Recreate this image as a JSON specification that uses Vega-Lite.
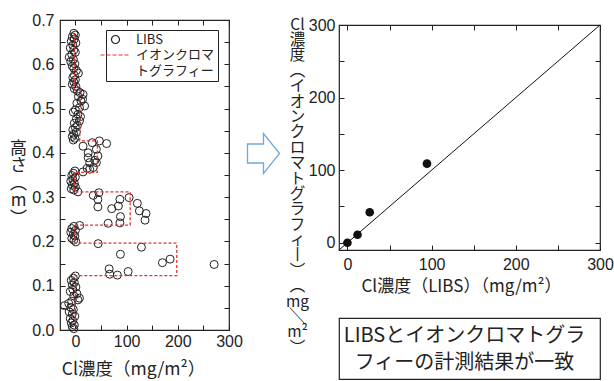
{
  "$schema": "https://vega.github.io/schema/vega-lite/v6.json",
  "background": "white",
  "padding": {"left": 8, "top": 11, "right": 2, "bottom": 0},
  "config": {
    "font": "Noto Sans CJK JP",
    "view": {"stroke": "#222", "strokeWidth": 1.2},
    "axis": {
      "grid": false, "domain": false, "tickColor": "#222", "tickSize": -5, "tickWidth": 1,
      "labelFont": "Liberation Sans Narrow, Liberation Sans, sans-serif", "labelFontSize": 16,
      "labelColor": "#222", "labelFlush": false, "labelOverlap": false,
      "titleFont": "Noto Sans CJK JP", "titleFontWeight": "normal", "titleColor": "#222"
    }
  },
  "spacing": 1,
  "hconcat": [
    {
      "width": 169,
      "height": 310,
      "layer": [
        {
          "data": {"values": [
            {"x": -3, "y": 0.670, "s": "LIBS"}, {"x": 0, "y": 0.666, "s": "LIBS"}, {"x": -6, "y": 0.662, "s": "LIBS"}, {"x": -2, "y": 0.657, "s": "LIBS"},
            {"x": -8, "y": 0.652, "s": "LIBS"}, {"x": 1, "y": 0.648, "s": "LIBS"}, {"x": -5, "y": 0.643, "s": "LIBS"}, {"x": -10, "y": 0.637, "s": "LIBS"},
            {"x": -3, "y": 0.632, "s": "LIBS"}, {"x": 0, "y": 0.627, "s": "LIBS"}, {"x": -7, "y": 0.622, "s": "LIBS"}, {"x": -12, "y": 0.616, "s": "LIBS"},
            {"x": -4, "y": 0.611, "s": "LIBS"}, {"x": -9, "y": 0.606, "s": "LIBS"}, {"x": -1, "y": 0.601, "s": "LIBS"}, {"x": -6, "y": 0.596, "s": "LIBS"},
            {"x": -3, "y": 0.591, "s": "LIBS"}, {"x": 2, "y": 0.586, "s": "LIBS"}, {"x": 6, "y": 0.580, "s": "LIBS"}, {"x": -2, "y": 0.575, "s": "LIBS"},
            {"x": -5, "y": 0.570, "s": "LIBS"}, {"x": 0, "y": 0.565, "s": "LIBS"}, {"x": -3, "y": 0.560, "s": "LIBS"}, {"x": -6, "y": 0.555, "s": "LIBS"},
            {"x": 1, "y": 0.550, "s": "LIBS"}, {"x": -2, "y": 0.545, "s": "LIBS"}, {"x": 4, "y": 0.540, "s": "LIBS"}, {"x": 9, "y": 0.536, "s": "LIBS"},
            {"x": 15, "y": 0.532, "s": "LIBS"}, {"x": 6, "y": 0.527, "s": "LIBS"}, {"x": 14, "y": 0.521, "s": "LIBS"}, {"x": 11, "y": 0.517, "s": "LIBS"},
            {"x": 3, "y": 0.512, "s": "LIBS"}, {"x": 18, "y": 0.506, "s": "LIBS"}, {"x": 8, "y": 0.502, "s": "LIBS"}, {"x": 0, "y": 0.497, "s": "LIBS"},
            {"x": -4, "y": 0.492, "s": "LIBS"}, {"x": 5, "y": 0.487, "s": "LIBS"}, {"x": 10, "y": 0.482, "s": "LIBS"}, {"x": 2, "y": 0.477, "s": "LIBS"},
            {"x": 8, "y": 0.472, "s": "LIBS"}, {"x": -2, "y": 0.467, "s": "LIBS"}, {"x": 4, "y": 0.462, "s": "LIBS"}, {"x": 0, "y": 0.457, "s": "LIBS"},
            {"x": -5, "y": 0.452, "s": "LIBS"}, {"x": 2, "y": 0.447, "s": "LIBS"}, {"x": -3, "y": 0.442, "s": "LIBS"}, {"x": -6, "y": 0.437, "s": "LIBS"},
            {"x": -1, "y": 0.433, "s": "LIBS"}, {"x": -4, "y": 0.429, "s": "LIBS"},
            {"x": 15, "y": 0.415, "s": "LIBS"}, {"x": 25, "y": 0.400, "s": "LIBS"}, {"x": 25, "y": 0.389, "s": "LIBS"}, {"x": 28, "y": 0.378, "s": "LIBS"},
            {"x": 23, "y": 0.365, "s": "LIBS"}, {"x": 33, "y": 0.423, "s": "LIBS"}, {"x": 47, "y": 0.427, "s": "LIBS"}, {"x": 61, "y": 0.421, "s": "LIBS"},
            {"x": 41, "y": 0.408, "s": "LIBS"}, {"x": 44, "y": 0.393, "s": "LIBS"}, {"x": 41, "y": 0.378, "s": "LIBS"}, {"x": 35, "y": 0.367, "s": "LIBS"},
            {"x": 15, "y": 0.357, "s": "LIBS"}, {"x": 28, "y": 0.363, "s": "LIBS"}, {"x": 38, "y": 0.383, "s": "LIBS"},
            {"x": -1, "y": 0.359, "s": "LIBS"}, {"x": -4, "y": 0.354, "s": "LIBS"}, {"x": -7, "y": 0.349, "s": "LIBS"}, {"x": 0, "y": 0.345, "s": "LIBS"},
            {"x": -5, "y": 0.340, "s": "LIBS"}, {"x": -9, "y": 0.336, "s": "LIBS"}, {"x": -2, "y": 0.331, "s": "LIBS"}, {"x": -6, "y": 0.327, "s": "LIBS"},
            {"x": 0, "y": 0.323, "s": "LIBS"}, {"x": -8, "y": 0.319, "s": "LIBS"}, {"x": -3, "y": 0.316, "s": "LIBS"}, {"x": 5, "y": 0.312, "s": "LIBS"},
            {"x": 35, "y": 0.304, "s": "LIBS"}, {"x": 46, "y": 0.310, "s": "LIBS"}, {"x": 44, "y": 0.295, "s": "LIBS"}, {"x": 44, "y": 0.278, "s": "LIBS"},
            {"x": 71, "y": 0.274, "s": "LIBS"}, {"x": 84, "y": 0.280, "s": "LIBS"}, {"x": 87, "y": 0.295, "s": "LIBS"}, {"x": 105, "y": 0.299, "s": "LIBS"},
            {"x": 121, "y": 0.286, "s": "LIBS"}, {"x": 125, "y": 0.269, "s": "LIBS"}, {"x": 138, "y": 0.263, "s": "LIBS"}, {"x": 136, "y": 0.248, "s": "LIBS"},
            {"x": 88, "y": 0.256, "s": "LIBS"}, {"x": 87, "y": 0.242, "s": "LIBS"}, {"x": 64, "y": 0.241, "s": "LIBS"}, {"x": 8.5, "y": 0.236, "s": "LIBS"},
            {"x": -3, "y": 0.234, "s": "LIBS"}, {"x": -7, "y": 0.229, "s": "LIBS"}, {"x": 0, "y": 0.225, "s": "LIBS"}, {"x": -9, "y": 0.221, "s": "LIBS"},
            {"x": -4, "y": 0.216, "s": "LIBS"}, {"x": -1, "y": 0.212, "s": "LIBS"}, {"x": -7, "y": 0.207, "s": "LIBS"}, {"x": -3, "y": 0.203, "s": "LIBS"},
            {"x": 1, "y": 0.199, "s": "LIBS"},
            {"x": 44.5, "y": 0.195, "s": "LIBS"}, {"x": 129, "y": 0.187, "s": "LIBS"}, {"x": 88, "y": 0.171, "s": "LIBS"}, {"x": 170, "y": 0.152, "s": "LIBS"},
            {"x": 185, "y": 0.160, "s": "LIBS"}, {"x": 271, "y": 0.148, "s": "LIBS"}, {"x": 66, "y": 0.138, "s": "LIBS"}, {"x": 67, "y": 0.126, "s": "LIBS"},
            {"x": 82, "y": 0.124, "s": "LIBS"}, {"x": 103, "y": 0.132, "s": "LIBS"},
            {"x": 0, "y": 0.122, "s": "LIBS"}, {"x": -4, "y": 0.117, "s": "LIBS"}, {"x": -8, "y": 0.112, "s": "LIBS"}, {"x": -2, "y": 0.107, "s": "LIBS"},
            {"x": -6, "y": 0.102, "s": "LIBS"}, {"x": 1, "y": 0.097, "s": "LIBS"}, {"x": -5, "y": 0.092, "s": "LIBS"}, {"x": -10, "y": 0.087, "s": "LIBS"},
            {"x": 3, "y": 0.082, "s": "LIBS"}, {"x": -3, "y": 0.077, "s": "LIBS"}, {"x": 8, "y": 0.072, "s": "LIBS"}, {"x": 5, "y": 0.068, "s": "LIBS"},
            {"x": -7, "y": 0.065, "s": "LIBS"}, {"x": -13, "y": 0.060, "s": "LIBS"}, {"x": -21, "y": 0.055, "s": "LIBS"}, {"x": -9, "y": 0.051, "s": "LIBS"},
            {"x": -4, "y": 0.046, "s": "LIBS"}, {"x": -12, "y": 0.041, "s": "LIBS"}, {"x": -6, "y": 0.036, "s": "LIBS"}, {"x": -1, "y": 0.031, "s": "LIBS"},
            {"x": -10, "y": 0.026, "s": "LIBS"}, {"x": -5, "y": 0.021, "s": "LIBS"}, {"x": -8, "y": 0.016, "s": "LIBS"}, {"x": -2, "y": 0.011, "s": "LIBS"},
            {"x": -6, "y": 0.007, "s": "LIBS"}, {"x": -3, "y": 0.003, "s": "LIBS"}
          ]},
          "mark": {"type": "point", "filled": false, "size": 64, "strokeWidth": 1, "opacity": 1},
          "encoding": {
            "x": {"field": "x", "type": "quantitative",
              "scale": {"domain": [-30, 300], "nice": false, "zero": false},
              "axis": {"orient": "bottom", "values": [0, 50, 100, 150, 200, 250, 300],
                "labelExpr": "datum.value % 100 === 0 ? datum.label : ''", "labelPadding": 8,
                "title": "Cl濃度（mg/m²）", "titleFontSize": 17.5, "titleX": 73, "titleY": 39, "titleBaseline": "middle"}},
            "y": {"field": "y", "type": "quantitative",
              "scale": {"domain": [0, 0.7], "nice": false, "zero": false},
              "axis": {"orient": "left", "values": [0, 0.05, 0.1, 0.15, 0.2, 0.25, 0.3, 0.35, 0.4, 0.45, 0.5, 0.55, 0.6, 0.65, 0.7],
                "labelExpr": "abs(datum.value * 10 - round(datum.value * 10)) < 0.001 ? format(datum.value, '.1f') : ''",
                "labelPadding": 11,
                "title": ["高", "さ", "︵", "m", "︶"], "titleAngle": 0, "titleX": -42, "titleY": 120,
                "titleAlign": "center", "titleBaseline": "top", "titleFontSize": 17, "titleLineHeight": 17.5}},
            "shape": {"field": "s", "type": "nominal",
              "scale": {"domain": ["LIBS", "IC", "IC2"], "range": ["circle", "M-3.75,0H-2.75M-2.25,0H-1.25M-0.75,0H0.25M0.75,0H1.75M2.25,0H3.25", "M0,0"]},
              "legend": {"orient": "none", "legendX": 46, "legendY": 10, "title": null,
                "labelExpr": "datum.value === 'IC' ? 'イオンクロマ' : datum.value === 'IC2' ? 'トグラフィー' : datum.value",
                "labelFont": "Noto Sans CJK JP", "labelFontSize": 13, "labelColor": "#222",
                "symbolSize": 64, "symbolStrokeWidth": 1.2, "labelOffset": 14, "rowPadding": 1.5,
                "padding": 3, "strokeColor": "#222", "fillColor": "white"}},
            "stroke": {"field": "s", "type": "nominal",
              "scale": {"domain": ["LIBS", "IC", "IC2"], "range": ["#222", "#e8332d", "transparent"]},
              "legend": {"orient": "none", "legendX": 46, "legendY": 10, "title": null,
                "labelExpr": "datum.value === 'IC' ? 'イオンクロマ' : datum.value === 'IC2' ? 'トグラフィー' : datum.value",
                "labelFont": "Noto Sans CJK JP", "labelFontSize": 13, "labelColor": "#222",
                "symbolSize": 64, "symbolStrokeWidth": 1.2, "labelOffset": 14, "rowPadding": 1.5,
                "padding": 3, "strokeColor": "#222", "fillColor": "white"}}
          }
        },
        {
          "data": {"values": [
            {"x": -1.5, "y": 0.67, "i": 1}, {"x": -1.5, "y": 0.543, "i": 2}, {"x": 8.5, "y": 0.543, "i": 3}, {"x": 8.5, "y": 0.427, "i": 4},
            {"x": 43, "y": 0.427, "i": 5}, {"x": 43, "y": 0.356, "i": 6}, {"x": -1.5, "y": 0.356, "i": 7}, {"x": -1.5, "y": 0.312, "i": 8},
            {"x": 107, "y": 0.312, "i": 9}, {"x": 107, "y": 0.237, "i": 10}, {"x": -1, "y": 0.237, "i": 11}, {"x": -1, "y": 0.196, "i": 12},
            {"x": 198, "y": 0.196, "i": 13}, {"x": 198, "y": 0.123, "i": 14}, {"x": 0, "y": 0.123, "i": 15}, {"x": 0, "y": 0.0, "i": 16}
          ]},
          "mark": {"type": "line", "color": "#e8332d", "strokeDash": [3, 2], "strokeWidth": 1.3},
          "encoding": {
            "x": {"field": "x", "type": "quantitative",
              "axis": {"orient": "top", "values": [0, 50, 100, 150, 200, 250, 300], "labels": false, "title": null}},
            "y": {"field": "y", "type": "quantitative",
              "axis": {"orient": "right", "values": [0, 0.05, 0.1, 0.15, 0.2, 0.25, 0.3, 0.35, 0.4, 0.45, 0.5, 0.55, 0.6, 0.65, 0.7], "labels": false, "title": null}},
            "order": {"field": "i", "type": "quantitative"}
          }
        }
      ],
      "resolve": {"axis": {"x": "independent", "y": "independent"}}
    },
    {
      "width": 35,
      "height": 267,
      "view": {"stroke": null},
      "data": {"values": [{"item": "arrow"}]},
      "mark": {"type": "point", "shape": "M-3.2,-1.9H0V-4L3.2,0L0,4V1.9H-3.2Z", "size": 100,
        "filled": true, "fill": "white", "stroke": "#6fa8dc", "strokeWidth": 1.3, "opacity": 1}
    },
    {
      "columns": 1,
      "align": "none",
      "spacing": {"row": -40, "column": 0},
      "concat": [
        {
          "width": 261,
          "height": 36,
          "view": {"stroke": null},
          "data": {"values": []},
          "mark": {"type": "text"}
        },
        {
          "width": 261,
          "height": 225,
          "layer": [
            {
              "data": {"values": [
                {"lx": 0, "ic": 0}, {"lx": 12, "ic": 11}, {"lx": 26.5, "ic": 42}, {"lx": 94.5, "ic": 109}
              ]},
              "mark": {"type": "point", "filled": true, "size": 75, "color": "#111", "opacity": 1},
              "encoding": {
                "x": {"field": "lx", "type": "quantitative",
                  "scale": {"domain": [-10, 300], "nice": false, "zero": false},
                  "axis": {"orient": "bottom", "values": [0, 50, 100, 150, 200, 250, 300],
                    "labelExpr": "datum.value % 100 === 0 ? datum.label : ''", "labelPadding": 11,
                    "title": "Cl濃度（LIBS）（mg/m²）", "titleFontSize": 17, "titleX": 122, "titleY": 36, "titleBaseline": "middle"}},
                "y": {"field": "ic", "type": "quantitative",
                  "scale": {"domain": [-10, 300], "nice": false, "zero": false},
                  "axis": {"orient": "left", "values": [0, 50, 100, 150, 200, 250, 300],
                    "labelExpr": "datum.value % 100 === 0 ? datum.label : ''", "labelPadding": 9,
                    "title": ["Cl", "濃", "度", "︵", "イ", "オ", "ン", "ク", "ロ", "マ", "ト", "グ", "ラ", "フ", "ィ", "丨", "︶", "︵", "mg", "╲", "m²", "︶"],
                    "titleAngle": 0, "titleX": -42, "titleY": -8, "titleAlign": "center", "titleBaseline": "top",
                    "titleFontSize": 15.5, "titleLineHeight": 15.4}}
              }
            },
            {
              "data": {"values": [{"lx": -10, "ic": -10}, {"lx": 300, "ic": 300}]},
              "mark": {"type": "line", "color": "#111", "strokeWidth": 1},
              "encoding": {
                "x": {"field": "lx", "type": "quantitative",
                  "axis": {"orient": "top", "values": [0, 50, 100, 150, 200, 250, 300], "labels": false, "title": null}},
                "y": {"field": "ic", "type": "quantitative",
                  "axis": {"orient": "right", "values": [0, 50, 100, 150, 200, 250, 300], "labels": false, "title": null}}
              }
            }
          ],
          "resolve": {"axis": {"x": "independent", "y": "independent"}}
        },
        {
          "width": 261,
          "height": 61,
          "view": {"stroke": "#222", "strokeWidth": 1.2},
          "data": {"values": [{"msg": "LIBSとイオンクロマトグラ\nフィーの計測結果が一致"}]},
          "mark": {"type": "text", "lineBreak": "\n", "fontSize": 20, "lineHeight": 27, "align": "center",
            "baseline": "middle", "dx": -5, "dy": -13, "font": "Noto Sans CJK JP", "color": "#222"},
          "encoding": {"text": {"field": "msg", "type": "nominal"}}
        }
      ]
    }
  ]
}
